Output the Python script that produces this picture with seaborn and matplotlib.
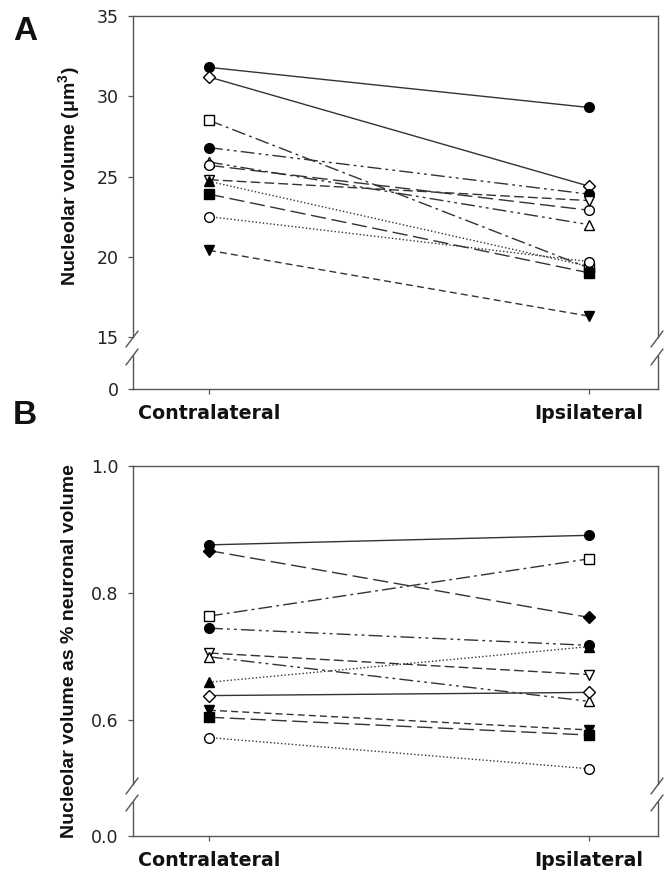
import matplotlib
matplotlib.use("Agg")
import matplotlib.pyplot as plt
from matplotlib.lines import Line2D
import seaborn as sns

# ---------------- data ----------------
categories = ["Contralateral", "Ipsilateral"]

# Panel A: nucleolar volume (um^3)
a_contra = [31.8, 31.2, 28.5, 26.8, 25.9, 25.7, 24.8, 24.7, 23.9, 22.5, 20.4]
a_ipsi = [29.3, 24.4, 19.3, 23.9, 22.0, 22.9, 23.5, 19.4, 19.0, 19.7, 16.3]

# Panel B: nucleolar volume as % of neuronal volume
b_contra = [0.876, 0.867, 0.764, 0.745, 0.706, 0.700, 0.660, 0.639, 0.616, 0.605, 0.573]
b_ipsi = [0.891, 0.762, 0.854, 0.718, 0.672, 0.630, 0.716, 0.644, 0.585, 0.577, 0.524]

a_ticks = [15, 20, 25, 30, 35]
b_ticks = [0.6, 0.8, 1.0]

# ---------------- styles ----------------
DASH = {
    "solid": "-",
    "longdash": (0, (11, 4)),
    "dash": (0, (7, 3)),
    "shortdash": (0, (5, 3)),
    "dashdot": (0, (10, 3, 2, 3)),
    "dashdotdot": (0, (10, 3, 2, 3, 2, 3)),
    "dotted": (0, (1, 1.6)),
}
a_markers = ["o", "D", "s", "o", "^", "o", "v", "^", "s", "o", "v"]
a_filled = [True, False, False, True, False, False, False, True, True, False, True]
a_lines = ["solid", "solid", "dashdot", "dashdotdot", "dashdotdot", "longdash",
           "dash", "dotted", "longdash", "dotted", "shortdash"]

b_markers = ["o", "D", "s", "o", "v", "^", "^", "D", "v", "s", "o"]
b_filled = [True, True, False, True, False, False, True, False, True, True, False]
b_lines = ["solid", "longdash", "dashdot", "dashdotdot", "dash", "dashdotdot",
           "dotted", "solid", "shortdash", "longdash", "dotted"]

sns.set_style("ticks")
plt.rcParams["font.family"] = ["DejaVu Sans"]
plt.rcParams["mathtext.fontset"] = "custom"
plt.rcParams["mathtext.rm"] = "Liberation Sans"
plt.rcParams["mathtext.bf"] = "Liberation Sans:bold"

W, H = 665, 884
fig = plt.figure(figsize=(W / 100, H / 100), dpi=100)

LX0, LX1 = 133, 658
SPINE = "#555555"
LINE = "#333333"
TXT = "#111111"


def add_ax(y0, y1):
    return fig.add_axes([LX0 / W, 1 - y1 / H, (LX1 - LX0) / W, (y1 - y0) / H])


axA = add_ax(16, 337)
axA0 = add_ax(356, 389)
axB = add_ax(466, 784)
axB0 = add_ax(802, 836)

XLIM = (-0.2, 1.182)


def draw_series(ax, left, right, markers, filled, lines):
    for i in range(len(left)):
        ms = 6.0 if markers[i] == "D" else 7.0
        sns.lineplot(x=categories, y=[left[i], right[i]], ax=ax, sort=False,
                     errorbar=None, legend=False, color=LINE, linewidth=1.0,
                     linestyle=DASH[lines[i]], marker=markers[i], markersize=ms,
                     markerfacecolor="black" if filled[i] else "white",
                     markeredgecolor="black", markeredgewidth=1.0, zorder=3)


draw_series(axA, a_contra, a_ipsi, a_markers, a_filled, a_lines)
draw_series(axB, b_contra, b_ipsi, b_markers, b_filled, b_lines)

for up, low, ylo, yhi, ticks, zero_lbl in [
        (axA, axA0, 15, 35, a_ticks, "0"),
        (axB, axB0, 0.5, 1.0, b_ticks, "0.0")]:
    up.set_xlim(*XLIM)
    low.set_xlim(*XLIM)
    up.set_ylim(ylo, yhi)
    up.set_yticks(ticks)
    if zero_lbl == "0":
        up.set_yticklabels([str(t) for t in ticks])
    else:
        up.set_yticklabels([f"{t:.1f}" for t in ticks])
    up.set_xticks([])
    up.set_xlabel("")
    up.set_ylabel("")
    up.spines["bottom"].set_visible(False)
    low.set_ylim(0, 1)
    low.set_yticks([0])
    low.set_yticklabels([zero_lbl])
    low.set_xticks([0, 1])
    low.set_xticklabels(categories, fontsize=13.7, fontweight="bold", color=TXT)
    low.spines["top"].set_visible(False)
    for a in (up, low):
        for s in a.spines.values():
            s.set_color(SPINE)
            s.set_linewidth(1.0)
        a.tick_params(axis="y", direction="out", length=3.5, width=0.9,
                      color=SPINE, labelsize=12.5, labelcolor="#222222", pad=7)
        a.tick_params(axis="x", direction="out", length=3.5, width=0.9,
                      color=SPINE, pad=7)
        a.patch.set_alpha(0)


# break marks
def brk(xc, yc):
    fig.add_artist(Line2D([(xc - 7) / W, (xc + 5) / W],
                          [1 - (yc + 8) / H, 1 - (yc - 8) / H],
                          transform=fig.transFigure, color=SPINE, lw=1.0))


for yb in (339, 357, 786, 803):
    brk(LX0, yb)
    brk(LX1, yb)

# axis labels
fig.text(70 / W, 1 - 176 / H, "Nucleolar volume (μm$^{\\mathbf{3}}$)", rotation=90,
         ha="center", va="center", fontsize=14, fontweight="bold", color=TXT,
         family=["Liberation Sans", "DejaVu Sans"])
fig.text(70 / W, 1 - 651 / H, "Nucleolar volume as % neuronal volume", rotation=90,
         ha="center", va="center", fontsize=14, fontweight="bold", color=TXT,
         family=["Liberation Sans", "DejaVu Sans"])
fig.text(25 / W, 1 - 31 / H, "A", ha="center", va="center", fontsize=24,
         fontweight="bold", color=TXT, family=["Liberation Sans", "DejaVu Sans"])
fig.text(25 / W, 1 - 415 / H, "B", ha="center", va="center", fontsize=24,
         fontweight="bold", color=TXT, family=["Liberation Sans", "DejaVu Sans"])

fig.savefig("out.png", dpi=100)
